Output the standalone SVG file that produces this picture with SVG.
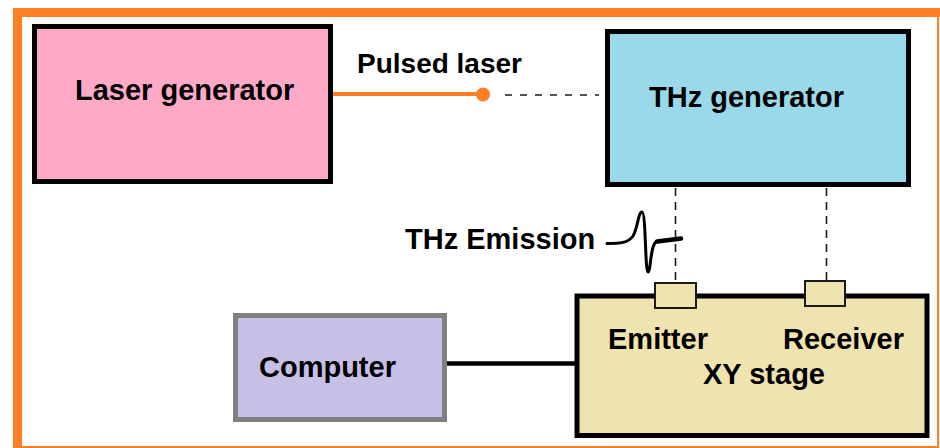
<svg xmlns="http://www.w3.org/2000/svg" width="940" height="448" viewBox="0 0 940 448">
<style>
  text { font-family: "Liberation Sans", Arial, sans-serif; font-weight: bold; font-size: 29px; fill: #000; }
  .box { stroke: #000; stroke-width: 5; }
  .port { fill: #EFE4B0; stroke: #1a1a1a; stroke-width: 2; }
  .dash { stroke: #1a1a1a; stroke-width: 1.6; fill: none; }
</style>
<rect x="0" y="0" width="940" height="448" fill="#fff"/>
<g id="frame" fill="none" stroke="#FF7F27">
  <path d="M17.5,448 V12.5 H940" stroke-width="9"/>
  <path d="M938,12 V447 H17" stroke-width="2"/>
</g>
<g id="connectors">
  <line x1="333" y1="94" x2="483" y2="94" stroke="#FF7F27" stroke-width="4"/>
  <circle cx="483" cy="94.5" r="7" fill="#FF7F27"/>
  <line class="dash" x1="505" y1="95" x2="599" y2="95" stroke-dasharray="7,8"/>
  <line class="dash" x1="675.5" y1="188" x2="675.5" y2="283" stroke-dasharray="8,6"/>
  <line class="dash" x1="826.5" y1="188" x2="826.5" y2="281" stroke-dasharray="8,6"/>
  <line x1="447" y1="363.5" x2="575" y2="363.5" stroke="#000" stroke-width="4.5"/>
</g>
<g id="laser-generator">
  <rect class="box" x="34.5" y="26.5" width="296" height="155" fill="#FFA9C9"/>
  <text x="75" y="100">Laser generator</text>
</g>
<g id="pulsed-laser-label">
  <text x="357" y="73" style="font-size:28px">Pulsed laser</text>
</g>
<g id="thz-generator">
  <rect class="box" x="607.5" y="31.5" width="301" height="153" fill="#99D9EA"/>
  <text x="649" y="107">THz generator</text>
</g>
<g id="thz-emission">
  <text x="405" y="249">THz Emission</text>
  <path d="M607,243.5 C620,243.5 628,243 633,236 C638,228 638,212 642,212 C646,212 645,272 648,272 C651,272 650,243 657,241.5 L681,238.5" fill="none" stroke="#000" stroke-width="3" stroke-linecap="round" stroke-linejoin="round"/>
  <path d="M657,241.5 L681,238.5" fill="none" stroke="#000" stroke-width="4.5" stroke-linecap="round"/>
</g>
<g id="computer">
  <rect x="235.5" y="315.5" width="209" height="104" fill="#C8BFE7" stroke="#7F7F7F" stroke-width="5"/>
  <text x="259" y="377">Computer</text>
</g>
<g id="xy-stage">
  <rect class="box" x="577" y="296" width="350" height="139.5" fill="#EFE4B0" stroke-width="6"/>
  <rect id="emitter" class="port" x="655" y="283" width="41" height="25"/>
  <rect id="receiver" class="port" x="805" y="281" width="40" height="25"/>
  <text x="608" y="349">Emitter</text>
  <text x="783" y="349">Receiver</text>
  <text x="703" y="384">XY stage</text>
</g>
</svg>
